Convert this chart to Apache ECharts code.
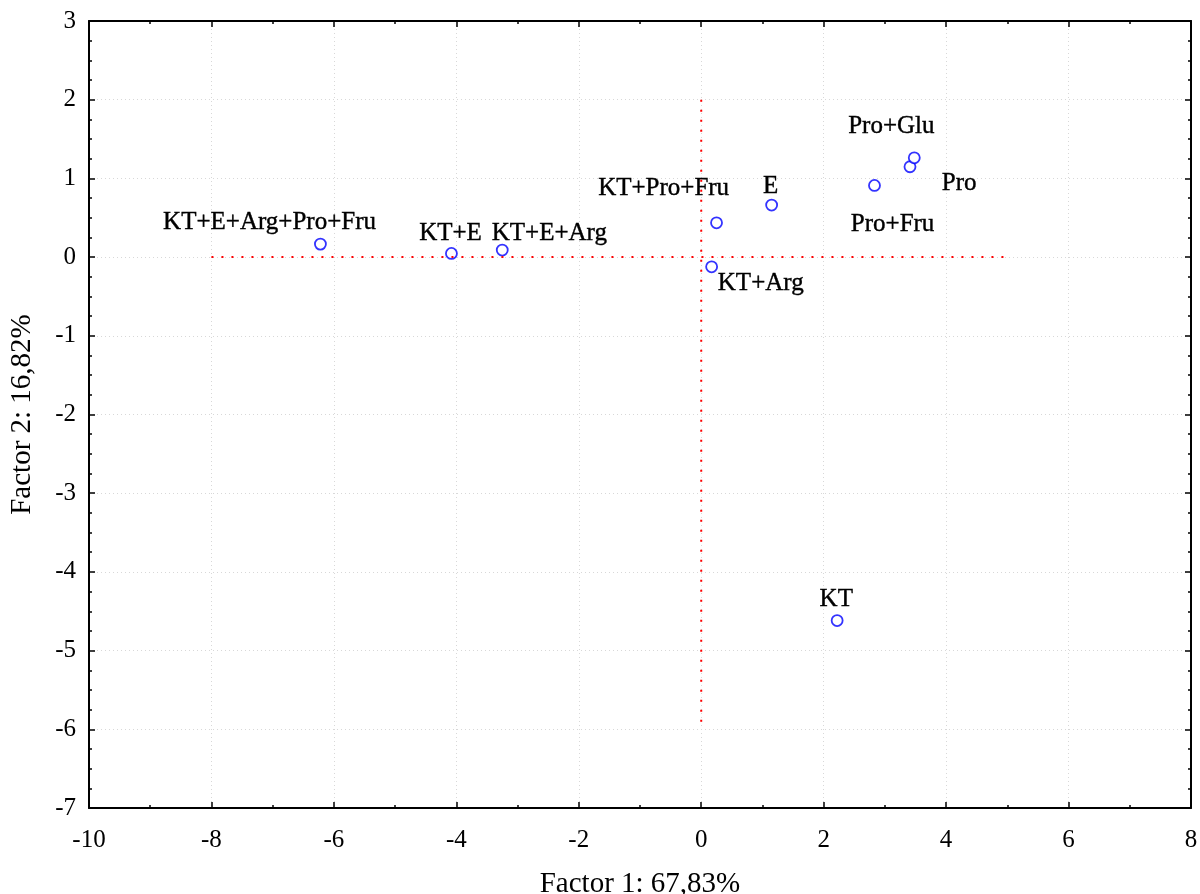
<!DOCTYPE html>
<html>
<head>
<meta charset="utf-8">
<script src="https://cdn.jsdelivr.net/npm/echarts@6/dist/echarts.min.js"></script>
<style>html,body{margin:0;padding:0;background:#fff}#c{width:1200px;height:894px}</style>
</head>
<body>
<div id="c"></div>
<script>
// Data
var names = ['KT+E+Arg+Pro+Fru','KT+E','KT+E+Arg','KT+Pro+Fru','KT+Arg','E','Pro+Fru','Pro','Pro+Glu','KT'];
var factor1 = [-6.22,-4.08,-3.25,0.25,0.17,1.15,2.83,3.41,3.48,2.22];
var factor2 = [0.165,0.047,0.089,0.436,-0.123,0.661,0.911,1.148,1.262,-4.618];
var xTitle = 'Factor 1: 67,83%';
var yTitle = 'Factor 2: 16,82%';
var hLine = [[-8,0],[5,0]];
var vLine = [[0,2],[0,-6]];

// label placement (styling): offset of label centre from the point, px
var labelOffsets = {
  'KT+E+Arg+Pro+Fru':[-50,-21],'KT+E':[0,-19],'KT+E+Arg':[48,-16],'KT+Pro+Fru':[-52,-33],
  'KT+Arg':[50,18],'E':[0,-18],'Pro+Fru':[19,40],'Pro':[50,18],'Pro+Glu':[-22,-30],'KT':[0,-20]
};

var font = '"Liberation Serif","Times New Roman",serif';
var pts = names.map(function(n,i){
  return {name:n, value:[factor1[i],factor2[i]], label:{offset:labelOffsets[n]}};
});

var chart = echarts.init(document.getElementById('c'));
var axisCommon = {
  axisLine:{show:true,onZero:false,lineStyle:{color:'#000',width:2}},
  axisTick:{show:true,inside:true,length:6,lineStyle:{color:'#000',width:1.5}}
};
function minor(n){return {minorTick:{show:true,splitNumber:n,length:3,lineStyle:{color:'#000',width:1.5}}};}
chart.setOption({
  animation:false,
  backgroundColor:'#fff',
  grid:{left:89,right:9,top:21,bottom:86,containLabel:false,outerBoundsMode:'none'},
  xAxis:[
    Object.assign({type:'value',min:-10,max:8,interval:2,position:'bottom',
      name:xTitle,nameLocation:'middle',nameGap:62,
      nameTextStyle:{fontFamily:font,fontSize:29,color:'#000'},
      axisLabel:{fontFamily:font,fontSize:25,color:'#000',margin:20},
      splitLine:{show:true,lineStyle:{color:'#d8d8d8',type:[1,3],width:1}}
    }, axisCommon, minor(2)),
    Object.assign({type:'value',min:-10,max:8,interval:2,position:'top',
      axisLabel:{show:false},splitLine:{show:false}
    }, axisCommon, minor(2))
  ],
  yAxis:[
    Object.assign({type:'value',min:-7,max:3,interval:1,position:'left',
      name:yTitle,nameLocation:'middle',nameGap:52,
      nameTextStyle:{fontFamily:font,fontSize:29,color:'#000'},
      axisLabel:{fontFamily:font,fontSize:25,color:'#000',margin:13},
      splitLine:{show:true,lineStyle:{color:'#d8d8d8',type:[1,3],width:1}}
    }, axisCommon, minor(4)),
    Object.assign({type:'value',min:-7,max:3,interval:1,position:'right',
      axisLabel:{show:false},splitLine:{show:false}
    }, axisCommon, minor(4))
  ],
  series:[
    {type:'line',data:hLine,symbol:'none',silent:true,
      lineStyle:{color:'#ff0000',width:2,type:[2,8]}},
    {type:'line',data:vLine,symbol:'none',silent:true,
      lineStyle:{color:'#ff0000',width:2,type:[2,8]}},
    {type:'scatter',data:pts,symbol:'circle',symbolSize:11,
      itemStyle:{color:'#fff',borderColor:'#0000ff',borderWidth:1.8},
      label:{show:true,position:[5.5,5.5],align:'center',verticalAlign:'middle',formatter:'{b}',
        fontFamily:font,fontSize:25,color:'#000',opacity:1,
        textBorderWidth:0.4,textBorderColor:'#000'}
    }
  ]
});
</script>
</body>
</html>
